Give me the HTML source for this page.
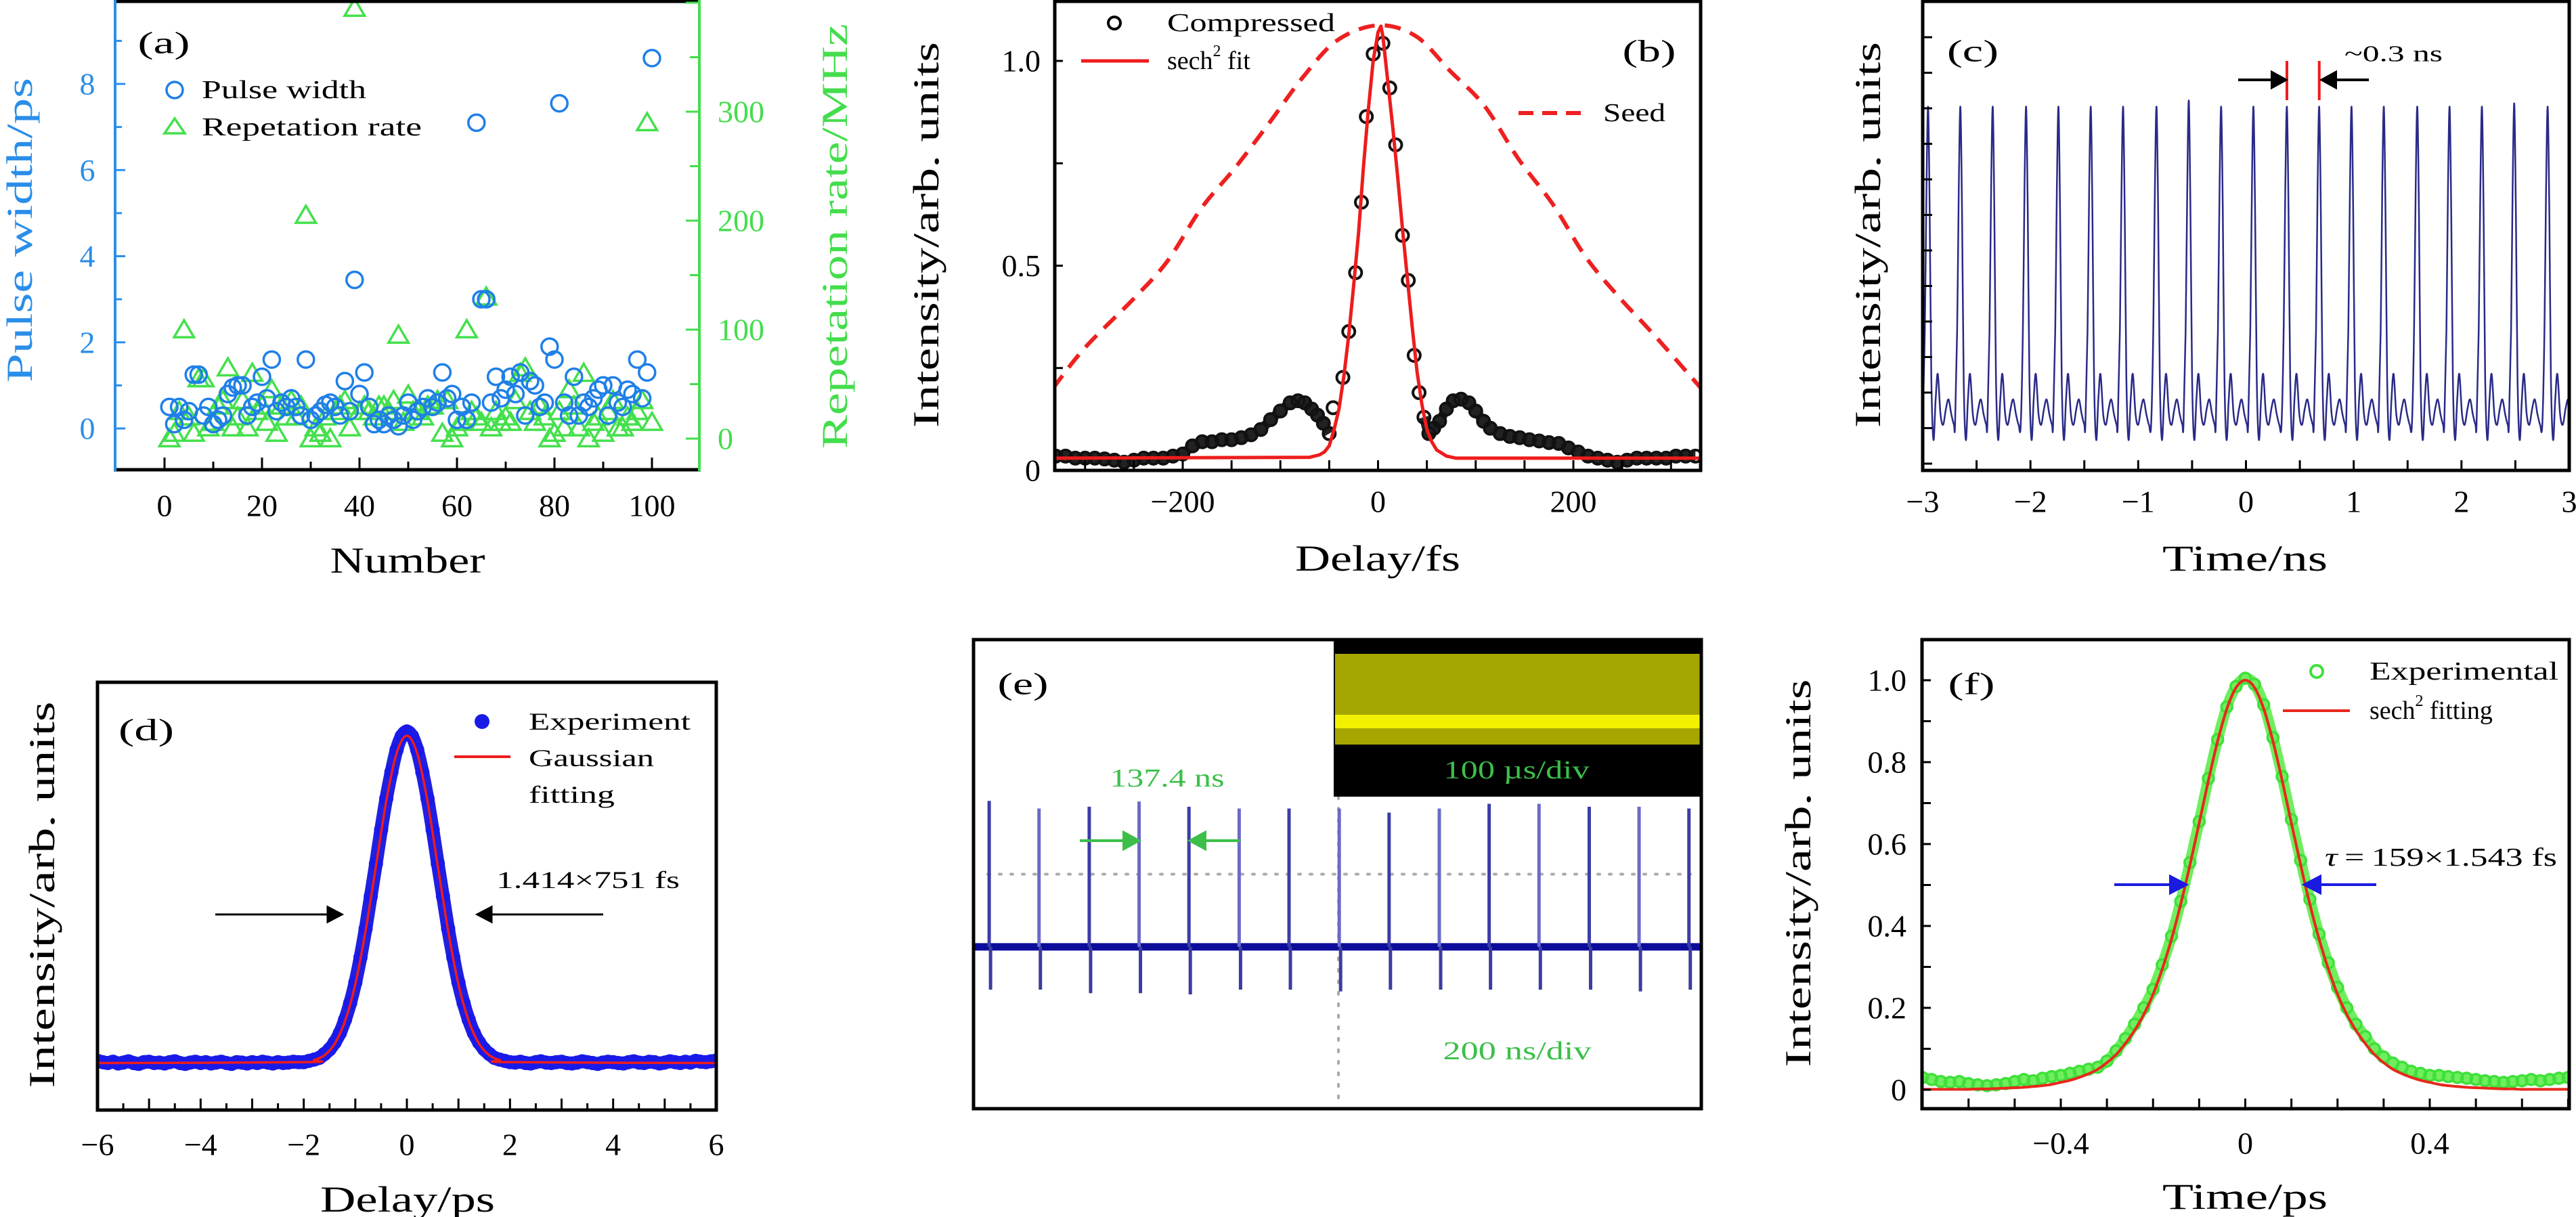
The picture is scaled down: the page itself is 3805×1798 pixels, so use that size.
<!DOCTYPE html>
<html><head><meta charset="utf-8">
<style>
html,body{margin:0;padding:0;background:#fff;}
svg{display:block;font-family:"Liberation Serif",serif;}
</style></head>
<body>
<svg id="fig" xmlns="http://www.w3.org/2000/svg" width="3805" height="1798" viewBox="0 0 3805 1798">
<rect width="3805" height="1798" fill="#fff"/>
</svg>
<script>
// ---------- Panel (a) data ----------
const aPulseWidth=[0.5,0.1,0.5,0.2,0.4,1.25,1.25,0.3,0.5,0.1,0.2,0.3,0.8,0.95,1.0,1.0,0.3,0.5,0.6,1.2,0.7,1.6,0.4,0.6,0.5,0.7,0.5,0.3,1.6,0.2,0.3,0.4,0.55,0.6,0.5,0.3,1.1,0.4,3.45,0.8,1.3,0.5,0.1,0.2,0.1,0.3,0.2,0.05,0.3,0.6,0.2,0.4,0.5,0.7,0.5,0.6,1.3,0.7,0.8,0.2,0.5,0.2,0.6,7.1,3.0,3.0,0.6,1.2,0.7,0.9,1.2,0.8,1.3,0.3,1.1,1.0,0.5,0.6,1.9,1.6,7.55,0.6,0.3,1.2,0.3,0.6,0.5,0.7,0.9,1.0,0.3,1.0,0.6,0.5,0.9,0.8,1.6,0.7,1.3,8.6];
const aRepRate=[0,5,25,100,20,5,55,55,10,15,30,35,65,10,20,35,10,60,25,30,15,45,5,30,20,35,20,30,205,0,10,5,20,0,25,30,35,10,395,25,30,25,20,30,30,25,35,95,15,40,25,25,20,30,30,35,5,35,0,10,15,100,25,20,15,130,10,25,15,20,15,35,60,65,25,15,30,20,0,5,25,10,45,30,10,60,0,15,20,5,25,35,10,10,20,15,25,35,290,15];
const aXTicks=[0,20,40,60,80,100];
const aLeftTicks=[0,2,4,6,8];
const aRightTicks=[0,100,200,300];
// ---------- Panel (b) data ----------
const bSeedX=[-333,-300,-250,-216,-181,-146,-111,-77,-42,0,39,74,109,144,179,213,248,283,331];
const bSeedY=[0.20,0.30,0.42,0.51,0.64,0.74,0.85,0.96,1.05,1.087,1.06,0.975,0.89,0.76,0.65,0.52,0.42,0.33,0.20];
const bCompX=[-330,-320,-310,-300,-290,-280,-270,-260,-250,-240,-230,-220,-210,-200,-190,-180,-170,-160,-150,-140,-130,-120,-110,-100,-90,-82,-75,-68,-62,-56,-50,-46,-36,-30,-23,-17,-12,-5,5,12,18,25,31,37,42,47,52,57,63,70,77,85,93,100,108,115,125,135,145,155,165,175,185,195,205,215,225,235,245,255,265,275,285,295,305,315,325];
const bCompY=[0.035,0.035,0.03,0.03,0.03,0.028,0.025,0.02,0.025,0.03,0.03,0.03,0.035,0.04,0.06,0.07,0.07,0.075,0.075,0.08,0.087,0.1,0.124,0.145,0.165,0.17,0.165,0.15,0.135,0.115,0.09,0.153,0.227,0.339,0.483,0.655,0.864,1.017,1.043,0.934,0.795,0.574,0.464,0.281,0.19,0.13,0.09,0.103,0.12,0.15,0.17,0.174,0.165,0.145,0.12,0.103,0.09,0.083,0.08,0.075,0.072,0.068,0.066,0.055,0.045,0.035,0.03,0.025,0.02,0.025,0.03,0.03,0.03,0.03,0.035,0.035,0.035];
const bFitX=[-333,-70,-60,-55,-50,-45,-40,-35,-30,-25,-20,-15,-10,-5,0,3,5,10,15,20,25,30,35,40,45,50,55,60,70,80,333];
const bFitY=[0.03,0.032,0.038,0.045,0.06,0.1,0.15,0.23,0.33,0.45,0.58,0.74,0.88,1.0,1.07,1.085,1.06,0.95,0.84,0.72,0.59,0.47,0.35,0.24,0.16,0.1,0.07,0.05,0.035,0.03,0.03];
const bXTicks=[-200,0,200];
const bYTicks=[0,0.5,1.0];
// ---------- Panel (c) data ----------
const cPeakT=[-2.95,-2.65,-2.35,-2.04,-1.74,-1.44,-1.14,-0.83,-0.53,-0.23,0.07,0.38,0.68,0.98,1.28,1.59,1.89,2.19,2.49,2.80];
const cPeakH=[0.773,0.773,0.773,0.773,0.773,0.773,0.773,0.773,0.786,0.773,0.773,0.773,0.773,0.773,0.773,0.773,0.773,0.773,0.78,0.773];
const cShapeT=[-0.05,-0.03,-0.015,0,0.015,0.03,0.05,0.07,0.09,0.115,0.14,0.165,0.19,0.215,0.24];
const cShapeV=[0.097,0.3,0.6,1,0.55,0.2,0.065,0.15,0.205,0.12,0.097,0.13,0.151,0.12,0.097];
const cXTicks=[-3,-2,-1,0,1,2,3];
// ---------- Panel (d) data ----------
const dY=[0.115,0.112,0.11,0.113,0.109,0.111,0.114,0.11,0.108,0.112,0.113,0.11,0.111,0.109,0.112,0.114,0.11,0.108,0.111,0.113,0.11,0.112,0.109,0.111,0.113,0.11,0.108,0.112,0.111,0.109,0.112,0.11,0.113,0.111,0.109,0.112,0.11,0.111,0.113,0.112,
0.112,0.115,0.118,0.122,0.131,0.142,0.158,0.18,0.211,0.25,0.298,0.357,0.424,0.5,0.576,0.655,0.728,0.79,0.842,0.874,0.885,0.874,0.842,0.79,0.728,0.655,0.576,0.5,0.424,0.357,0.298,0.25,0.211,0.18,0.158,0.142,0.131,0.122,0.118,0.115,0.112,
0.111,0.113,0.11,0.109,0.112,0.114,0.111,0.11,0.112,0.113,0.11,0.109,0.111,0.114,0.112,0.11,0.108,0.111,0.113,0.112,0.11,0.109,0.112,0.114,0.111,0.11,0.113,0.112,0.109,0.111,0.114,0.112,0.11,0.113,0.111,0.115,0.113,0.112,0.114,0.116];
const dXStart=-6, dXStep=0.1;
const dFitX=[-6,-2,-1.8,-1.6,-1.4,-1.2,-1.0,-0.8,-0.6,-0.4,-0.2,0,0.2,0.4,0.6,0.8,1.0,1.2,1.4,1.6,1.8,2,6];
const dFitY=[0.11,0.112,0.117,0.128,0.155,0.208,0.294,0.42,0.57,0.722,0.834,0.875,0.834,0.722,0.57,0.42,0.294,0.208,0.155,0.128,0.117,0.112,0.11];
const dXTicks=[-6,-4,-2,0,2,4,6];
// ---------- Panel (e) data ----------
const ePulseT=[43,180,318,455,592,730,867,1005,1142,1280,1417,1554,1692,1829,1966];
const ePulseTop=[5.25,5.12,5.15,5.24,5.15,5.12,5.12,5.12,5.05,5.12,5.2,5.2,5.15,5.15,5.12];
const ePulseBot=[2.03,2.03,1.97,1.97,1.95,2.03,2.03,2.0,2.03,2.03,2.03,2.03,2.03,2.0,2.03];
const eBase=2.76;
// ---------- Panel (f) data ----------
const fExp=[0.03,0.025,0.02,0.018,0.02,0.015,0.012,0.01,0.012,0.015,0.02,0.025,0.022,0.028,0.032,0.035,
0.04,0.045,0.05,0.055,0.07,0.095,0.125,0.16,0.2,0.245,0.305,0.375,0.46,0.555,0.655,0.76,0.855,0.935,0.985,1.005,
0.99,0.94,0.86,0.765,0.66,0.56,0.465,0.38,0.31,0.25,0.2,0.16,0.13,0.1,0.08,0.065,0.055,0.045,0.04,0.035,
0.035,0.032,0.03,0.028,0.025,0.022,0.02,0.018,0.02,0.022,0.025,0.022,0.025,0.028,0.03];
const fFit=[0.001,0.001,0.001,0.001,0.001,0.001,0.002,0.002,0.003,0.004,0.005,0.006,0.008,0.01,0.013,0.018,0.023,0.03,0.039,0.05,0.066,0.086,0.113,0.145,0.184,0.233,0.295,0.368,0.453,0.549,0.651,0.755,0.851,0.93,0.982,1.0,
0.982,0.93,0.851,0.755,0.651,0.549,0.453,0.368,0.295,0.233,0.184,0.145,0.113,0.086,0.066,0.05,0.039,0.03,0.023,0.018,0.013,0.01,0.008,0.006,0.005,0.004,0.003,0.002,0.002,0.001,0.001,0.001,0.001,0.001,0.001];
const fXStart=-0.7, fXStep=0.02;
const fXTicks=[-0.4,0,0.4];
const fYTicks=[0,0.2,0.4,0.6,0.8,1.0];

// ---------- helpers ----------
const NS='http://www.w3.org/2000/svg';
const svg=document.getElementById('fig');
function mk(tag,attrs,parent){const e=document.createElementNS(NS,tag);for(const k in attrs)e.setAttribute(k,attrs[k]);(parent||svg).appendChild(e);return e;}
function lin(d0,d1,r0,r1){return v=>r0+(v-d0)/(d1-d0)*(r1-r0);}
function smooth(pts){let d='M'+pts[0][0].toFixed(1)+','+pts[0][1].toFixed(1);for(let i=0;i<pts.length-1;i++){const p0=pts[Math.max(i-1,0)],p1=pts[i],p2=pts[i+1],p3=pts[Math.min(i+2,pts.length-1)];const c1x=p1[0]+(p2[0]-p0[0])/6,c1y=p1[1]+(p2[1]-p0[1])/6,c2x=p2[0]-(p3[0]-p1[0])/6,c2y=p2[1]-(p3[1]-p1[1])/6;d+=` C${c1x.toFixed(1)},${c1y.toFixed(1)} ${c2x.toFixed(1)},${c2y.toFixed(1)} ${p2[0].toFixed(1)},${p2[1].toFixed(1)}`;}return d;}
function poly(pts){return 'M'+pts.map(p=>p[0].toFixed(1)+','+p[1].toFixed(1)).join(' L');}
function fmt(v){return (v<0?'\u2212':'')+Math.abs(v);}
function txt(x,y,s,size,attrs,parent){const t=mk('text',Object.assign({x:x,y:y,'font-size':size,'dominant-baseline':'central','text-anchor':'middle',fill:'#000'},attrs||{}),parent);t.textContent=s;return t;}
function clip(id,x,y,w,h){const cp=mk('clipPath',{id:id});mk('rect',{x:x,y:y,width:w,height:h},cp);}

// ================= Panel (a) =================
const ga=mk('g',{});


const xa=lin(0,100,243,963), ya=lin(0,8,633,124), yr=lin(0,300,648,165);
clip('clipA',170,0,863,694);
const aMarks=mk('g',{'clip-path':'url(#clipA)'},ga);


aRepRate.forEach((v,i)=>{const x=xa(i+1),y=yr(v),s=14;
 const p=mk('polygon',{points:`${x},${y-s} ${x-s*1.05},${y+s*0.8} ${x+s*1.05},${y+s*0.8}`,fill:'none',stroke:'#44e04c','stroke-width':3.5},aMarks);
 
 });
aPulseWidth.forEach((v,i)=>{const c=mk('circle',{cx:xa(i+1),cy:ya(v),r:12,fill:'none',stroke:'#1f7fe8','stroke-width':3.5},aMarks);
 
 });
let ln=mk('line',{x1:168,y1:2,x2:1035,y2:2,stroke:'#000','stroke-width':5},ga);

ln=mk('line',{x1:168,y1:694,x2:1035,y2:694,stroke:'#000','stroke-width':5},ga);

ln=mk('line',{x1:170,y1:0,x2:170,y2:696,stroke:'#2a8ee8','stroke-width':4},ga);

ln=mk('line',{x1:1033,y1:0,x2:1033,y2:696,stroke:'#44dd4c','stroke-width':4},ga);

for(let v=0;v<=100;v+=10){const l=mk('line',{x1:xa(v),y1:694,x2:xa(v),y2:v%20==0?676:682,stroke:'#000','stroke-width':3},ga);
 }
aXTicks.forEach(v=>{const t=txt(xa(v),747,String(v),46,{},ga);
 });
for(let v=0;v<=9;v++){const l=mk('line',{x1:170,y1:ya(v),x2:v%2==0?185:180,y2:ya(v),stroke:'#2a8ee8','stroke-width':3},ga);
 }
aLeftTicks.forEach(v=>{const t=txt(129,ya(v),String(v),46,{fill:'#2a8ee8'},ga);
 });
for(let v=0;v<=400;v+=50){if(yr(v)<0)continue;const l=mk('line',{x1:1033,y1:yr(v),x2:v%100==0?1013:1019,y2:yr(v),stroke:'#44dd4c','stroke-width':3},ga);
 }
aRightTicks.forEach(v=>{const t=txt(1060,yr(v),String(v),46,{fill:'#44dd4c','text-anchor':'start'},ga);
 });
let t;
t=txt(29,340,'Pulse width/ps',54,{fill:'#2a8ee8',transform:'rotate(-90 29 340)',textLength:450,lengthAdjust:'spacingAndGlyphs'},ga);

t=txt(1233,349,'Repetation rate/MHz',54,{fill:'#44dd4c',transform:'rotate(-90 1233 349)',textLength:628,lengthAdjust:'spacingAndGlyphs'},ga);

t=txt(602,828,'Number',54,{textLength:229,lengthAdjust:'spacingAndGlyphs'},ga);

t=txt(242,63,'(a)',46,{textLength:77,lengthAdjust:'spacingAndGlyphs'},ga);

let c=mk('circle',{cx:258,cy:133,r:12,fill:'none',stroke:'#1f7fe8','stroke-width':3.5},ga);

t=txt(298,133,'Pulse width',38,{'text-anchor':'start',textLength:243,lengthAdjust:'spacingAndGlyphs'},ga);

c=mk('polygon',{points:'258,175 243,197 273,197',fill:'none',stroke:'#44e04c','stroke-width':3.5},ga);

t=txt(298,188,'Repetation rate',38,{'text-anchor':'start',textLength:325,lengthAdjust:'spacingAndGlyphs'},ga);


// ================= Panel (b) =================
const gb=mk('g',{});


const xb=lin(-200,200,1747,2324), yb=lin(0,1,695,90);
clip('clipB',1558,2,954,693);
const bPlot=mk('g',{'clip-path':'url(#clipB)'},gb);
let p=mk('path',{d:smooth(bSeedX.map((x,i)=>[xb(x),yb(bSeedY[i])])),fill:'none',stroke:'#ee2020','stroke-width':6,'stroke-dasharray':'24 15'},bPlot);

const wl=[],wr=[];
bCompX.forEach((x,i)=>{if(x<=-50)wl.push([xb(x),yb(bCompY[i])]);if(x>=47)wr.push([xb(x),yb(bCompY[i])]);});
[wl,wr].forEach(w=>{const q=mk('path',{d:smooth(w),fill:'none',stroke:'#222','stroke-width':14,'stroke-linejoin':'round'},bPlot);
 });
bCompX.forEach((x,i)=>{const cc=mk('circle',{cx:xb(x),cy:yb(bCompY[i]),r:9,fill:'none',stroke:'#111','stroke-width':4},bPlot);
 });
p=mk('path',{d:poly(bFitX.map((x,i)=>[xb(x),yb(bFitY[i])])),fill:'none',stroke:'#ee1c1c','stroke-width':5,'stroke-linejoin':'round'},bPlot);

let r=mk('rect',{x:1558,y:2,width:954,height:693,fill:'none',stroke:'#000','stroke-width':5},gb);

for(let v=-300;v<=300;v+=50){const l=mk('line',{x1:xb(v),y1:695,x2:xb(v),y2:680,stroke:'#000','stroke-width':3},gb);
 }
for(let v=0;v<=1;v+=0.25){const l=mk('line',{x1:1558,y1:yb(v),x2:1570,y2:yb(v),stroke:'#000','stroke-width':3},gb);
 }
bXTicks.forEach(v=>{const tt=txt(xb(v),741,fmt(v),46,{},gb);
 });
bYTicks.forEach(v=>{const tt=txt(1537,yb(v),v==0?'0':v.toFixed(1),46,{'text-anchor':'end'},gb);
 });
t=txt(1368,347,'Intensity/arb. units',54,{transform:'rotate(-90 1368 347)',textLength:570,lengthAdjust:'spacingAndGlyphs'},gb);

t=txt(2035,825,'Delay/fs',54,{textLength:244,lengthAdjust:'spacingAndGlyphs'},gb);

c=mk('circle',{cx:1646,cy:34,r:9,fill:'none',stroke:'#000','stroke-width':4},gb);

t=txt(1724,34,'Compressed',38,{'text-anchor':'start',textLength:248,lengthAdjust:'spacingAndGlyphs'},gb);

ln=mk('line',{x1:1597,y1:90,x2:1697,y2:90,stroke:'#ee1c1c','stroke-width':5},gb);

t=mk('text',{x:1724,y:90,'font-size':38,'dominant-baseline':'central'},gb);
t.innerHTML='sech<tspan font-size="24" dy="-14">2</tspan><tspan dy="14"> fit</tspan>';

ln=mk('line',{x1:2243,y1:167,x2:2343,y2:167,stroke:'#ee2020','stroke-width':6,'stroke-dasharray':'22 13'},gb);

t=txt(2368,167,'Seed',38,{'text-anchor':'start',textLength:92,lengthAdjust:'spacingAndGlyphs'},gb);

t=txt(2436,75,'(b)',46,{textLength:79,lengthAdjust:'spacingAndGlyphs'},gb);


// ================= Panel (c) =================
const gc=mk('g',{});


const xc=lin(-3,3,2840,3795), yc=lin(0,1,695,0);
clip('clipC',2840,2,955,693);
const cpts=[];
cPeakT.forEach((t0,i)=>{cShapeT.forEach((o,j)=>{const v=j==3?cPeakH[i]:cShapeV[j];cpts.push([xc(t0+o),yc(v)]);});});
p=mk('path',{d:smooth(cpts),fill:'none',stroke:'#2a2a88','stroke-width':2.5,'clip-path':'url(#clipC)'},gc);

r=mk('rect',{x:2840,y:2,width:955,height:693,fill:'none',stroke:'#000','stroke-width':5},gc);

for(let v=-3;v<=3.001;v+=0.5){const l=mk('line',{x1:xc(v),y1:695,x2:xc(v),y2:680,stroke:'#000','stroke-width':3},gc);
 }
for(let k=0;k<=12;k++){const y=685-52.5*k;const l=mk('line',{x1:2840,y1:y,x2:2854,y2:y,stroke:'#000','stroke-width':3},gc);
 }
cXTicks.forEach(v=>{const tt=txt(xc(v),741,fmt(v),46,{},gc);
 });
t=txt(2759,347,'Intensity/arb. units',54,{transform:'rotate(-90 2759 347)',textLength:570,lengthAdjust:'spacingAndGlyphs'},gc);

t=txt(3316,825,'Time/ns',54,{textLength:244,lengthAdjust:'spacingAndGlyphs'},gc);

t=txt(2914,75,'(c)',46,{textLength:76,lengthAdjust:'spacingAndGlyphs'},gc);

[[xc(cPeakT[11])],[xc(cPeakT[12])]].forEach(a=>{const l=mk('line',{x1:a[0],y1:90,x2:a[0],y2:148,stroke:'#ee1c1c','stroke-width':4},gc);
 });
ln=mk('path',{d:'M3306,118 L3360,118 M3376,118 L3356,107 L3356,129 Z',stroke:'#000','stroke-width':4,fill:'#000'},gc);

ln=mk('path',{d:'M3499,118 L3446,118 M3430,118 L3450,107 L3450,129 Z',stroke:'#000','stroke-width':4,fill:'#000'},gc);

t=txt(3463,80,'~0.3 ns',34,{'text-anchor':'start',textLength:145,lengthAdjust:'spacingAndGlyphs'},gc);


// ================= Panel (d) =================
const gd=mk('g',{});


const xd=lin(-6,6,144,1058), yd=lin(0,1,1640,1008);
clip('clipD',144,1008,914,632);
const dPlot=mk('g',{'clip-path':'url(#clipD)'},gd);
const dpts=dY.map((v,i)=>[xd(dXStart+dXStep*i),yd(v)]);
p=mk('path',{d:smooth(dpts),fill:'none',stroke:'#2020e0','stroke-width':20,'stroke-linejoin':'round'},dPlot);

dpts.forEach(pt=>{const cc=mk('circle',{cx:pt[0],cy:pt[1],r:10.5,fill:'#1a1ae8'},dPlot);
 });
p=mk('path',{d:smooth(dFitX.map((x,i)=>[xd(x),yd(dFitY[i])])),fill:'none',stroke:'#ee1c1c','stroke-width':3.5},dPlot);

r=mk('rect',{x:144,y:1008,width:914,height:632,fill:'none',stroke:'#000','stroke-width':5},gd);

for(let v=-6;v<=6.001;v+=0.5){const l=mk('line',{x1:xd(v),y1:1640,x2:xd(v),y2:Number.isInteger(v)?1623:1630,stroke:'#000','stroke-width':3},gd);
 }
dXTicks.forEach(v=>{const tt=txt(xd(v),1691,fmt(v),46,{},gd);
 });
t=txt(62,1322,'Intensity/arb. units',54,{transform:'rotate(-90 62 1322)',textLength:571,lengthAdjust:'spacingAndGlyphs'},gd);

t=txt(602,1772,'Delay/ps',54,{textLength:258,lengthAdjust:'spacingAndGlyphs'},gd);

t=txt(216,1078,'(d)',46,{textLength:82,lengthAdjust:'spacingAndGlyphs'},gd);

c=mk('circle',{cx:712,cy:1066,r:11,fill:'#1a1ae8'},gd);

t=txt(781,1066,'Experiment',36,{'text-anchor':'start',textLength:239,lengthAdjust:'spacingAndGlyphs'},gd);

ln=mk('line',{x1:671,y1:1118,x2:754,y2:1118,stroke:'#ee1c1c','stroke-width':4},gd);

t=txt(781,1120,'Gaussian',36,{'text-anchor':'start',textLength:185,lengthAdjust:'spacingAndGlyphs'},gd);

t=txt(781,1174,'fitting',36,{'text-anchor':'start',textLength:127,lengthAdjust:'spacingAndGlyphs'},gd);

ln=mk('path',{d:'M318,1351 L488,1351 M505,1351 L484,1340 L484,1362 Z',stroke:'#000','stroke-width':3,fill:'#000'},gd);

ln=mk('path',{d:'M891,1351 L722,1351 M705,1351 L726,1340 L726,1362 Z',stroke:'#000','stroke-width':3,fill:'#000'},gd);

t=txt(733,1300,'1.414\u00d7751 fs',36,{'text-anchor':'start',textLength:271,lengthAdjust:'spacingAndGlyphs'},gd);


// ================= Panel (e) =================
const ge=mk('g',{});


const xe=lin(0,2000,1438,2513), ye=lin(0,8,1638,945);
r=mk('rect',{x:1438,y:945,width:1075,height:693,fill:'#fff'},ge);
ln=mk('line',{x1:1459,y1:ye(4),x2:2497,y2:ye(4),stroke:'#aaa','stroke-width':4,'stroke-dasharray':'3 14','stroke-linecap':'round'},ge);

ln=mk('line',{x1:1977,y1:1177,x2:1977,y2:1625,stroke:'#aaa','stroke-width':4,'stroke-dasharray':'3 14','stroke-linecap':'round'},ge);

ln=mk('line',{x1:1440,y1:ye(eBase),x2:2511,y2:ye(eBase),stroke:'#0c0c9c','stroke-width':11},ge);

ePulseT.forEach((tt,i)=>{const x=xe(tt);
 const a=mk('line',{x1:x,y1:ye(ePulseTop[i]),x2:x,y2:ye(eBase),stroke:i%2?'#6a6ac8':'#3c3ca8','stroke-width':5},ge);
 
 const b=mk('line',{x1:x+2,y1:ye(eBase),x2:x+2,y2:ye(ePulseBot[i]),stroke:'#3c3ca0','stroke-width':5},ge);
 });
const gi=mk('g',{},ge);


mk('rect',{x:1970,y:945,width:543,height:232,fill:'#000'},gi);
mk('rect',{x:1972,y:966,width:539,height:134,fill:'#a6a600'},gi);
mk('rect',{x:1972,y:1056,width:539,height:20,fill:'#f2f200'},gi);
t=txt(2240,1138,'100 \u00b5s/div',38,{fill:'#3cbf4a',textLength:215,lengthAdjust:'spacingAndGlyphs'},gi);

r=mk('rect',{x:1438,y:945,width:1075,height:693,fill:'none',stroke:'#000','stroke-width':5},ge);

t=txt(1511,1010,'(e)',46,{textLength:75,lengthAdjust:'spacingAndGlyphs'},ge);

t=txt(1724,1150,'137.4 ns',38,{fill:'#3cbf4a',textLength:169,lengthAdjust:'spacingAndGlyphs'},ge);

ln=mk('path',{d:'M1595,1242 L1664,1242 M1682,1242 L1660,1230 L1660,1254 Z',stroke:'#3cbf4a','stroke-width':4,fill:'#3cbf4a'},ge);

ln=mk('path',{d:'M1832,1242 L1776,1242 M1758,1242 L1780,1230 L1780,1254 Z',stroke:'#3cbf4a','stroke-width':4,fill:'#3cbf4a'},ge);

t=txt(2241,1553,'200 ns/div',38,{fill:'#3cbf4a',textLength:219,lengthAdjust:'spacingAndGlyphs'},ge);


// ================= Panel (f) =================
const gf=mk('g',{});


const xf=lin(-0.4,0.4,3044,3589), yf=lin(0,1,1610,1005);
clip('clipF',2839,945,956,693);
const fPlot=mk('g',{'clip-path':'url(#clipF)'},gf);
const fpts=fExp.map((v,i)=>[xf(fXStart+fXStep*i),yf(v)]);
p=mk('path',{d:smooth(fpts),fill:'none',stroke:'#6fee5e','stroke-width':16,'stroke-linejoin':'round'},fPlot);

fpts.forEach(pt=>{const cc=mk('circle',{cx:pt[0],cy:pt[1],r:8,fill:'none',stroke:'#3fe03a','stroke-width':3.5},fPlot);
 });
p=mk('path',{d:smooth(fFit.map((v,i)=>[xf(fXStart+fXStep*i),yf(v)])),fill:'none',stroke:'#e8281c','stroke-width':4},fPlot);

r=mk('rect',{x:2839,y:945,width:956,height:693,fill:'none',stroke:'#000','stroke-width':5},gf);

for(let k=-7;k<=7;k++){const v=k/10;const l=mk('line',{x1:xf(v),y1:1638,x2:xf(v),y2:1623,stroke:'#000','stroke-width':3},gf);
 }
for(let k=0;k<=10;k++){const v=k/10;const l=mk('line',{x1:2839,y1:yf(v),x2:2852,y2:yf(v),stroke:'#000','stroke-width':3},gf);
 }
fXTicks.forEach(v=>{const tt=txt(xf(v),1689,v==0?'0':fmt(v),46,{},gf);
 });
fYTicks.forEach(v=>{const tt=txt(2816,yf(v),v==0?'0':v.toFixed(1),46,{'text-anchor':'end'},gf);
 });
t=txt(2656,1290,'Intensity/arb. units',54,{transform:'rotate(-90 2656 1290)',textLength:573,lengthAdjust:'spacingAndGlyphs'},gf);

t=txt(3316,1768,'Time/ps',54,{textLength:244,lengthAdjust:'spacingAndGlyphs'},gf);

t=txt(2912,1010,'(f)',46,{textLength:69,lengthAdjust:'spacingAndGlyphs'},gf);

c=mk('circle',{cx:3422,cy:992,r:9,fill:'none',stroke:'#3fe03a','stroke-width':4},gf);

t=txt(3500,992,'Experimental',38,{'text-anchor':'start',textLength:279,lengthAdjust:'spacingAndGlyphs'},gf);

ln=mk('line',{x1:3372,y1:1050,x2:3471,y2:1050,stroke:'#e8281c','stroke-width':4},gf);

t=mk('text',{x:3500,y:1050,'font-size':38,'dominant-baseline':'central'},gf);
t.innerHTML='sech<tspan font-size="24" dy="-14">2</tspan><tspan dy="14"> fitting</tspan>';

ln=mk('path',{d:'M3123,1307 L3210,1307 M3229,1307 L3206,1295 L3206,1319 Z',stroke:'#1a1ae0','stroke-width':4,fill:'#1a1ae0'},gf);

ln=mk('path',{d:'M3510,1307 L3423,1307 M3404,1307 L3427,1295 L3427,1319 Z',stroke:'#1a1ae0','stroke-width':4,fill:'#1a1ae0'},gf);

t=mk('text',{x:3434,y:1267,'font-size':38,'dominant-baseline':'central',textLength:343,lengthAdjust:'spacingAndGlyphs'},gf);
t.innerHTML='<tspan font-style="italic">\u03c4</tspan>\u2009=\u2009159\u00d71.543 fs';

</script>
</body></html>
